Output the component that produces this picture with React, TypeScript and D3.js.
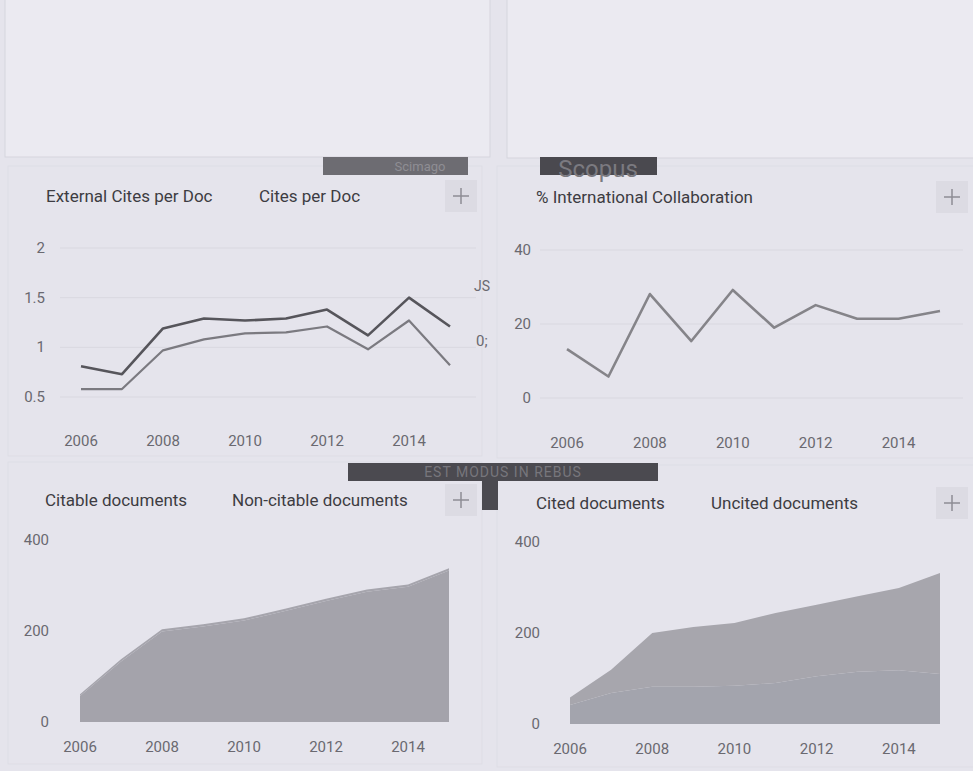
import React from 'react';
import * as d3 from 'd3';

const years = [2006, 2007, 2008, 2009, 2010, 2011, 2012, 2013, 2014, 2015];
const yearTicks = [2006, 2008, 2010, 2012, 2014];

const citesPerDoc = [0.81, 0.73, 1.19, 1.29, 1.27, 1.29, 1.38, 1.12, 1.5, 1.21];
const externalCitesPerDoc = [0.58, 0.58, 0.97, 1.08, 1.14, 1.15, 1.21, 0.98, 1.27, 0.82];
const citesTicks = [0.5, 1, 1.5, 2];

const intlCollaboration = [13.2, 5.8, 28.1, 15.4, 29.2, 19.0, 25.1, 21.4, 21.4, 23.5];
const collabTicks = [0, 20, 40];

const citableDocs = [57, 133, 199, 210, 223, 244, 266, 286, 297, 333];
const nonCitableDocs = [4, 5, 5, 5, 5, 5, 5, 5, 5, 5];
const citedDocs = [42, 68, 82, 82, 84, 90, 105, 115, 118, 110];
const uncitedDocs = [16, 51, 118, 131, 138, 154, 157, 166, 181, 222];
const docTicks = [0, 200, 400];

const BG = '#e5e4ec';
const FONT = 'Roboto, "Noto Sans", sans-serif';

type Frame = {
  x: [number, number];
  y: [number, number];
  yDomain: [number, number];
  grid: [number, number];
  yLabelX: number;
  xLabelY: number;
};

const Ticks: React.FC<{ f: Frame; yTicks: number[]; grid?: boolean }> = ({ f, yTicks, grid = true }) => {
  const x = d3.scaleLinear().domain([2006, 2015]).range(f.x);
  const y = d3.scaleLinear().domain(f.yDomain).range(f.y);
  return (
    <g fontFamily={FONT} fontSize={15} fill="#6a6970">
      {grid &&
        yTicks.map((t) => (
          <line key={'g' + t} x1={f.grid[0]} x2={f.grid[1]} y1={y(t)} y2={y(t)} stroke="#d9d8e0" strokeWidth={1} />
        ))}
      {yTicks.map((t) => (
        <text key={'y' + t} x={f.yLabelX} y={y(t) + 5} textAnchor="end">
          {t}
        </text>
      ))}
      {yearTicks.map((t) => (
        <text key={'x' + t} x={x(t)} y={f.xLabelY} textAnchor="middle">
          {t}
        </text>
      ))}
    </g>
  );
};

const LinePanel: React.FC<{ f: Frame; series: { values: number[]; color: string; width: number }[] }> = ({ f, series }) => {
  const x = d3.scaleLinear().domain([2006, 2015]).range(f.x);
  const y = d3.scaleLinear().domain(f.yDomain).range(f.y);
  const line = d3
    .line<number>()
    .x((_, i) => x(years[i]))
    .y((d) => y(d));
  return (
    <g>
      {series.map((s, i) => (
        <path key={i} d={line(s.values) || ''} fill="none" stroke={s.color} strokeWidth={s.width} strokeLinejoin="round" />
      ))}
    </g>
  );
};

const StackPanel: React.FC<{ f: Frame; bottom: number[]; top: number[]; colors: [string, string] }> = ({ f, bottom, top, colors }) => {
  const x = d3.scaleLinear().domain([2006, 2015]).range(f.x);
  const y = d3.scaleLinear().domain(f.yDomain).range(f.y);
  const rows = years.map((yr, i) => ({ yr, a: bottom[i], b: top[i] }));
  const stack = d3.stack<{ yr: number; a: number; b: number }>().keys(['a', 'b'])(rows);
  const area = d3
    .area<d3.SeriesPoint<{ yr: number; a: number; b: number }>>()
    .x((d) => x(d.data.yr))
    .y0((d) => y(d[0]))
    .y1((d) => y(d[1]));
  return (
    <g>
      {stack.map((s, i) => (
        <path key={i} d={area(s) || ''} fill={colors[i]} />
      ))}
    </g>
  );
};

const PlusButton: React.FC<{ cx: number; cy: number }> = ({ cx, cy }) => (
  <g>
    <rect x={cx - 16} y={cy - 16} width={32} height={32} fill="#dcdbe3" />
    <line x1={cx - 8} x2={cx + 8} y1={cy} y2={cy} stroke="#8e8d94" strokeWidth={1.5} />
    <line x1={cx} x2={cx} y1={cy - 8} y2={cy + 8} stroke="#8e8d94" strokeWidth={1.5} />
  </g>
);

const f1: Frame = { x: [81, 450], y: [397, 248], yDomain: [0.5, 2], grid: [60, 476], yLabelX: 45, xLabelY: 446 };
const f2: Frame = { x: [567, 940], y: [398, 250], yDomain: [0, 40], grid: [540, 963], yLabelX: 531, xLabelY: 448 };
const f3: Frame = { x: [80, 449], y: [722, 540], yDomain: [0, 400], grid: [60, 476], yLabelX: 49, xLabelY: 752 };
const f4: Frame = { x: [570, 940], y: [724, 542], yDomain: [0, 400], grid: [545, 963], yLabelX: 540, xLabelY: 754 };

export default function App() {
  return (
    <svg width={973} height={771} style={{ position: 'absolute', left: 0, top: 0 }}>
      <rect width={973} height={771} fill={BG} />

      {/* empty cards on top */}
      <rect x={5} y={-4} width={485} height={161} fill="#ebeaf1" stroke="#d6d5dd" />
      <rect x={507} y={-4} width={470} height={162} fill="#ebeaf1" stroke="#d6d5dd" />

      {/* panel frames */}
      <rect x={8} y={166} width={474} height={290} fill="none" stroke="#dedde5" />
      <rect x={497} y={166} width={480} height={292} fill="none" stroke="#dedde5" />
      <rect x={8} y={462} width={474} height={302} fill="none" stroke="#dedde5" />
      <rect x={497} y={465} width={480} height={302} fill="none" stroke="#dedde5" />

      {/* chart 1 */}
      <Ticks f={f1} yTicks={citesTicks} />
      <LinePanel
        f={f1}
        series={[
          { values: externalCitesPerDoc, color: '#7b7a80', width: 2.2 },
          { values: citesPerDoc, color: '#56555b', width: 2.6 },
        ]}
      />
      <g fontFamily={FONT} fontSize={17} fill="#3d3c42">
        <text x={46} y={202}>External Cites per Doc</text>
        <text x={259} y={202}>Cites per Doc</text>
      </g>
      <PlusButton cx={461} cy={196} />

      {/* chart 2 */}
      <Ticks f={f2} yTicks={collabTicks} />
      <LinePanel f={f2} series={[{ values: intlCollaboration, color: '#858489', width: 2.6 }]} />
      <g fontFamily={FONT} fontSize={17} fill="#3d3c42">
        <text x={536} y={203}>% International Collaboration</text>
      </g>
      <PlusButton cx={952} cy={197} />

      {/* chart 3 */}
      <Ticks f={f3} yTicks={docTicks} grid={false} />
      <StackPanel f={f3} bottom={citableDocs} top={nonCitableDocs} colors={['#a4a3ab', '#a6a5ad']} />
      <g fontFamily={FONT} fontSize={17} fill="#3d3c42">
        <text x={45} y={506}>Citable documents</text>
        <text x={232} y={506}>Non-citable documents</text>
      </g>
      <PlusButton cx={461} cy={500} />

      {/* chart 4 */}
      <Ticks f={f4} yTicks={docTicks} grid={false} />
      <StackPanel f={f4} bottom={citedDocs} top={uncitedDocs} colors={['#a3a4ad', '#a7a6ad']} />
      <g fontFamily={FONT} fontSize={17} fill="#3d3c42">
        <text x={536} y={509}>Cited documents</text>
        <text x={711} y={509}>Uncited documents</text>
      </g>
      <PlusButton cx={952} cy={503} />

      {/* dark overlays */}
      <rect x={323} y={157} width={145} height={18} fill="#6d6c72" />
      <text x={420} y={171} fontFamily={FONT} fontSize={13} fill="#8f8e94" textAnchor="middle">Scimago</text>
      <rect x={540} y={157} width={117} height={18} fill="#4a494f" />
      <text x={598} y={177} fontFamily={FONT} fontSize={24} fill="#7b7a80" textAnchor="middle">Scopus</text>
      <rect x={348} y={463} width={310} height={18} fill="#4b4a50" />
      <rect x={482} y={463} width={16} height={47} fill="#4b4a50" />
      <text x={503} y={477} fontFamily={FONT} fontSize={14} fill="#77767c" textAnchor="middle" letterSpacing={1}>EST MODUS IN REBUS</text>

      {/* stray fragments */}
      <text x={474} y={291} fontFamily={FONT} fontSize={14} fill="#6a6970">JS</text>
      <text x={476} y={346} fontFamily={FONT} fontSize={15} fill="#6a6970">0;</text>
    </svg>
  );
}
